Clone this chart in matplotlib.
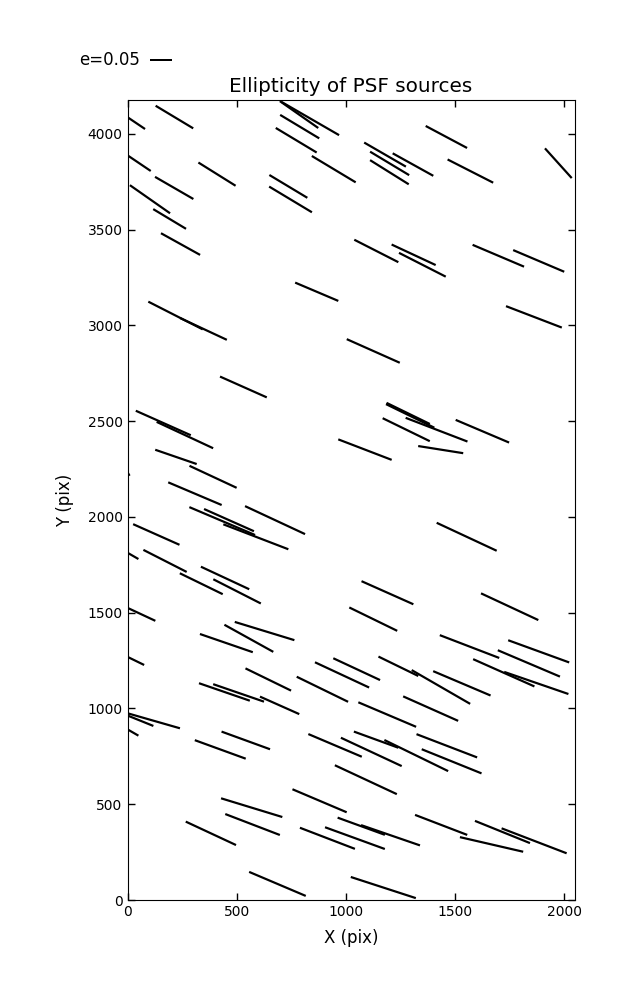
import numpy as np
import matplotlib
matplotlib.use("Agg")
import matplotlib.pyplot as plt

# PSF source positions (pix), ellipticity and position angle (deg)
x_pix = [42, 215, 786, 838, 789, 773, 945, 55, 410, 214, 103, 193, 243, 737, 747, 867,
         1461, 1180, 1201, 1308, 1200, 1571, 1974, 1140, 1311, 1351, 1699, 1884,
         220, 348, 1126, 531, 164, 263, 1088, 222, 392, 309, 2,
         1862, 1295, 1286, 1416, 1277, 1626, 1435,
         434, 465, 676, 588, 132, 27, 172, 338, 447, 502, 66, 1126, 453, 556, 628, 40,
         645, 893, 983, 1050, 444, 509, 697,
         1554, 1191, 1751, 1567, 1884, 1839, 1724, 1873, 1241, 1436, 1532, 1389, 1190,
         122, 61, 27, 542, 425, 951, 1117, 1092, 880, 569, 573, 382, 916, 1042, 1071,
         1205, 1437, 1718, 1863, 1668, 687, 1172,
         1139, 1323, 1463, 1485]
y_pix = [4054, 4087, 4100, 4079, 4037, 3966, 3815, 3845, 3789, 3717, 3658, 3555, 3424, 3725, 3657, 3175,
         3983, 3891, 3845, 3839, 3799, 3805, 3846, 3388, 3368, 3316, 3363, 3336,
         3051, 2981, 2866, 2678, 2490, 2427, 2351, 2313, 2209, 2121, 2229,
         3044, 2527, 2540, 2455, 2455, 2447, 2351,
         1978, 1983, 1983, 1896, 1908, 1795, 1770, 1651, 1681, 1611, 1490, 1466, 1341, 1366, 1404, 1247,
         1151, 1100, 1175, 1205, 1086, 1081, 1016,
         1896, 1604, 1531, 1323, 1298, 1235, 1186, 1133, 1220, 1112, 1131, 999, 968,
         935, 935, 873, 833, 786, 807, 773, 628, 518, 482, 394, 348, 322, 323, 385,
         338, 392, 355, 309, 290, 84, 65,
         837, 754, 805, 724]
ellip = [0.047, 0.102, 0.109, 0.154, 0.106, 0.111, 0.119, 0.063, 0.102, 0.103, 0.114, 0.089, 0.104, 0.103, 0.116, 0.109,
         0.109, 0.112, 0.106, 0.108, 0.106, 0.119, 0.093, 0.115, 0.113, 0.122, 0.130, 0.129,
         0.142, 0.120, 0.135, 0.119, 0.140, 0.145, 0.133, 0.102, 0.121, 0.135, 0.015,
         0.139, 0.125, 0.112, 0.154, 0.122, 0.135, 0.106,
         0.166, 0.127, 0.154, 0.162, 0.118, 0.027, 0.113, 0.111, 0.124, 0.124, 0.069, 0.124, 0.130, 0.130, 0.145, 0.041,
         0.118, 0.133, 0.139, 0.120, 0.125, 0.125, 0.100,
         0.154, 0.132, 0.147, 0.148, 0.151, 0.157, 0.156, 0.158, 0.103, 0.157, 0.145, 0.140, 0.146,
         0.125, 0.063, 0.027, 0.120, 0.126, 0.135, 0.156, 0.159, 0.137, 0.149, 0.136, 0.129, 0.137, 0.148, 0.117,
         0.145, 0.130, 0.138, 0.162, 0.151, 0.143, 0.159,
         0.110, 0.165, 0.151, 0.150]
angle = [-34, -31, -35, -30, -31, -31, -31, -34, -32, -30, -35, -31, -29, -31, -31, -23,
         -28, -30, -31, -29, -32, -27, -48, -27, -25, -27, -23, -23,
         -27, -25, -24, -24, -24, -25, -21, -19, -25, -23, -60,
         -21, -26, -26, -21, -26, -23, -9,
         -23, -24, -25, -21, -24, -30, -27, -26, -25, -27, -25, -26, -19, -29, -17, -26,
         -26, -26, -25, -25, -19, -19, -24,
         -25, -24, -25, -21, -20, -23, -24, -19, -26, -30, -23, -24, -23,
         -16, -22, -30, -20, -20, -23, -25, -25, -23, -17, -21, -25, -21, -20, -20,
         -19, -21, -22, -21, -13, -23, -18,
         -20, -26, -21, -22]

e = np.array(ellip)
th = np.radians(angle)
u = e * np.cos(th)
v = e * np.sin(th)

fig = plt.figure(figsize=(6.37, 10), dpi=100)
ax = fig.add_axes([127.5 / 637, 0.1, 447 / 637, 0.8])

q = ax.quiver(x_pix, y_pix, u, v, angles='uv', units='dots', width=2.2,
              scale_units='dots', scale=0.05 / 21.5,
              headwidth=0, headlength=0, headaxislength=0,
              pivot='middle', color='k')
# key arrow is anchored at its tail when the label sits on the west side
ax.quiverkey(q, 150 / 637, 0.94, 0.05, 'e=0.05', labelpos='W',
             coordinates='figure', fontproperties={'size': 12})

ax.set_xlim(0, 2048)
ax.set_ylim(0, 4176)
ax.set_xticks([0, 500, 1000, 1500, 2000])
ax.set_yticks(range(0, 4001, 500))
ax.tick_params(direction='in', top=True, right=True, length=5, width=1, labelsize=10)
ax.set_xlabel('X (pix)', fontsize=12, labelpad=7)
ax.set_ylabel('Y (pix)', fontsize=12, labelpad=10)
ax.set_title('Ellipticity of PSF sources', fontsize=14.4)

fig.savefig('out.png', dpi=100)
